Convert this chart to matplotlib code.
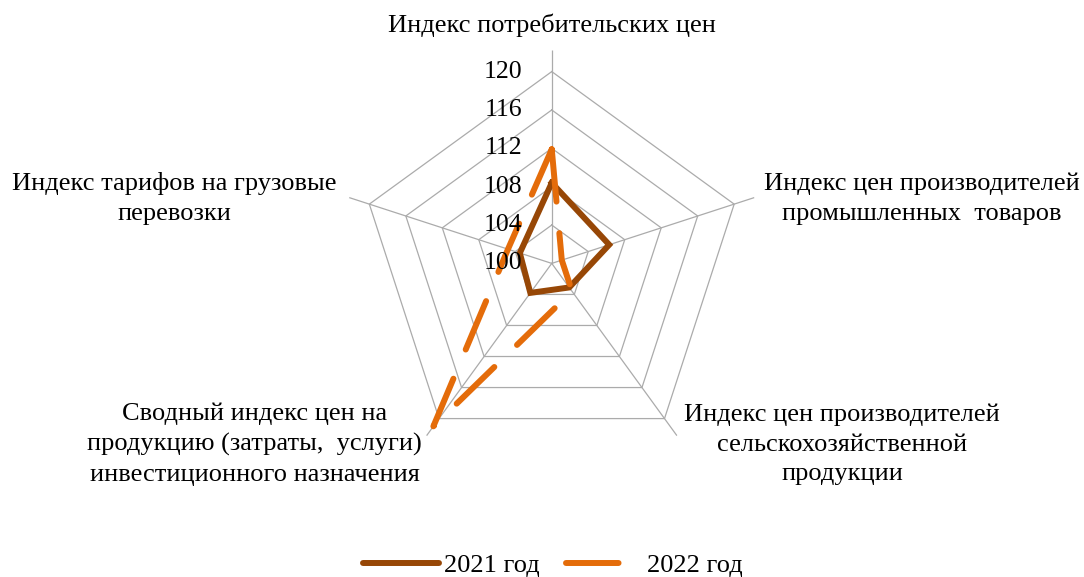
import numpy as np
import matplotlib
matplotlib.use("Agg")
import matplotlib.pyplot as plt
from matplotlib.lines import Line2D
from matplotlib.transforms import offset_copy

# categories, clockwise from the top
categories = [
    "Индекс потребительских цен",
    "Индекс цен производителей\nпромышленных  товаров",
    "Индекс цен производителей\nсельскохозяйственной\nпродукции",
    "Сводный индекс цен на\nпродукцию (затраты,  услуги)\nинвестиционного назначения",
    "Индекс тарифов на грузовые\nперевозки",
]
values_2021 = [108.4, 106.3, 103.1, 103.8, 103.5]
values_2022 = [111.9, 101.1, 103.6, 121.0, 104.8]
ring_levels = [104, 108, 112, 116, 120]
tick_labels = ["100", "104", "108", "112", "116", "120"]
series_names = ["2021 год", "2022 год"]

# label placement in figure fraction
label_pos = [(0.509, 0.957), (0.850, 0.656), (0.777, 0.230), (0.235, 0.230), (0.161, 0.656)]

c21 = "#974706"
c22 = "#E46C0A"
grid_c = "#ababab"
fs = 19

plt.rcParams["font.family"] = ["Liberation Serif", "DejaVu Serif"]

fig = plt.figure(figsize=(10.84, 5.77), dpi=100)
ax = fig.add_axes([0.3125, 0.1745, 0.393, 0.738], projection="polar")
ax.set_theta_zero_location("N")
ax.set_theta_direction(-1)

n = len(categories)
angles = np.arange(n) * 2 * np.pi / n
closed = np.append(angles, angles[0])

# pentagon rings and spokes
for lev in ring_levels:
    ax.plot(closed, [lev] * (n + 1), color=grid_c, lw=0.9, zorder=1)
for a in angles:
    ax.plot([a, a], [100, 122.2], color=grid_c, lw=0.9, zorder=1)

ax.plot(closed, values_2021 + values_2021[:1], color=c21, lw=4.3,
        solid_joinstyle="miter", zorder=3)
ax.plot(closed, values_2022 + values_2022[:1], color=c22, lw=4.3,
        dashes=(8.8, 5.3), dash_capstyle="round", zorder=4)

ax.set_ylim(100, 122.2)
ax.grid(False)
ax.set_xticks([])
ax.set_yticks([])
ax.spines["polar"].set_visible(False)
ax.set_facecolor("none")

# radial tick labels left of the top spoke
tr = offset_copy(ax.transData, fig=fig, x=-29, y=0, units="dots")
for lev, txt in zip([100] + ring_levels, tick_labels):
    ax.text(0, lev, txt, transform=tr, ha="right", va="center", fontsize=18.5, zorder=5)

for (x, y), lab in zip(label_pos, categories):
    fig.text(x, y, lab, ha="center", va="center", fontsize=fs, linespacing=1.45)

handles = [
    Line2D([], [], color=c21, lw=4.3, solid_capstyle="round"),
    Line2D([], [], color=c22, lw=4.3, dashes=(8.8, 5.3), dash_capstyle="round"),
]
fig.legend(handles, series_names, loc="center", bbox_to_anchor=(0.51, 0.02),
           ncol=2, frameon=False, fontsize=fs, handlelength=2.85,
           handletextpad=0.2, columnspacing=1.0)

fig.savefig("out.png", dpi=100, facecolor="white")
